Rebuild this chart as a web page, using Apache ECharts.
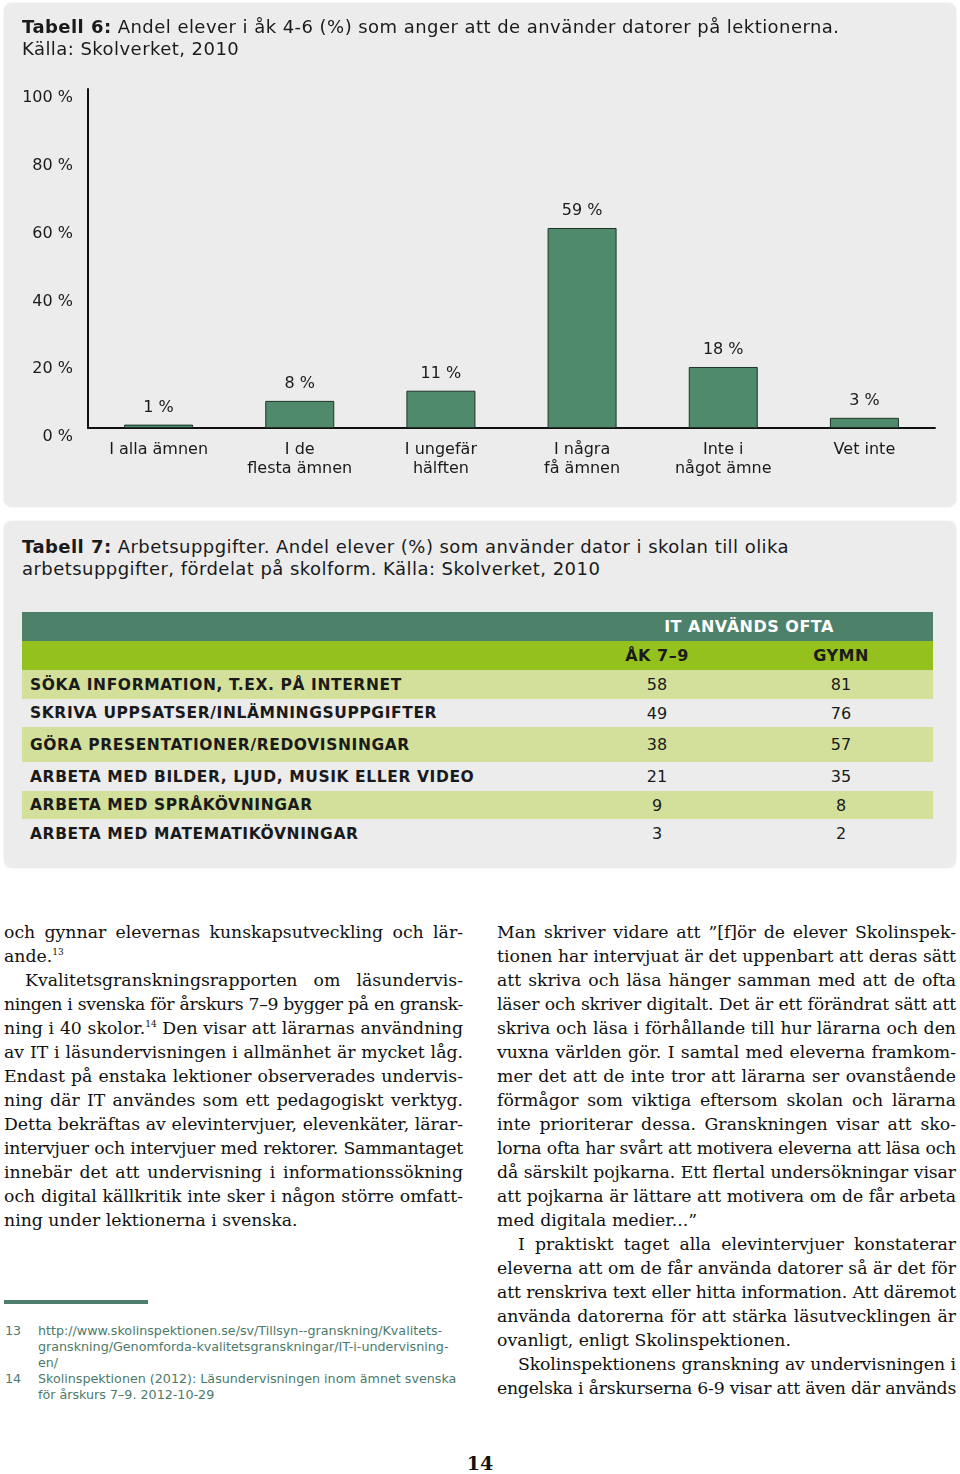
<!DOCTYPE html>
<html><head><meta charset="utf-8">
<script src="https://cdn.jsdelivr.net/npm/echarts@6/dist/echarts.min.js"></script>
<style>
body{margin:0;background:#fff;}
#page{position:relative;width:960px;height:1474px;overflow:hidden;background:#fff;font-family:"DejaVu Sans",Verdana,sans-serif;color:#1a1a1a;}
.panel{position:absolute;background:#ececec;border-radius:8px;box-shadow:0 0 2px rgba(0,0,0,0.12);}
.ptitle{position:absolute;left:22px;font-size:18px;letter-spacing:0.45px;line-height:21.5px;white-space:nowrap;}
#chart{position:absolute;left:0;top:0;width:960px;height:506px;}
table{position:absolute;left:22px;top:612px;width:911px;border-collapse:collapse;table-layout:fixed;}
td{padding:0;font-size:16px;}
td.lab{padding-left:8px;font-weight:bold;font-size:15.5px;letter-spacing:0.6px;white-space:nowrap;}
td.v{text-align:center;}
td.h{font-weight:bold;font-size:16px;letter-spacing:0.5px;}
.body{position:absolute;font-family:"DejaVu Serif",Georgia,serif;font-size:17.3px;line-height:24px;color:#111;}
.body div{text-align:justify;text-align-last:justify;white-space:nowrap;height:24px;}
.body div.last{text-align-last:left;}
.body div.ind{padding-left:21px;}
sup{font-size:9px;line-height:0;vertical-align:7px;}
.fn{position:absolute;font-size:12.7px;line-height:16px;color:#4b7a6b;white-space:nowrap;}
</style></head>
<body><div id="page">
<div class="panel" style="left:4px;top:3px;width:952px;height:504px;"></div>
<div id="chart"></div>
<div class="ptitle" style="top:16px;"><b>Tabell 6:</b> Andel elever i åk 4-6 (%) som anger att de använder datorer på lektionerna.<br>Källa: Skolverket, 2010</div>

<div class="panel" style="left:4px;top:521px;width:952px;height:347px;"></div>
<div class="ptitle" style="top:536px;"><b>Tabell 7:</b> Arbetsuppgifter. Andel elever (%) som använder dator i skolan till olika<br>arbetsuppgifter, fördelat på skolform. Källa: Skolverket, 2010</div>
<table id="tbl"></table>

<div class="body" style="left:4px;top:920px;width:459px;" id="colL"></div>
<div class="body" style="left:497px;top:920px;width:459px;" id="colR"></div>

<div style="position:absolute;left:4px;top:1300px;width:144px;height:4px;background:#4e7f6e;"></div>
<div class="fn" style="left:5px;top:1323px;">13</div>
<div class="fn" style="left:38px;top:1323px;">http://www.skolinspektionen.se/sv/Tillsyn--granskning/Kvalitets-<br>granskning/Genomforda-kvalitetsgranskningar/IT-i-undervisning-<br>en/</div>
<div class="fn" style="left:5px;top:1371px;">14</div>
<div class="fn" style="left:38px;top:1371px;">Skolinspektionen (2012): Läsundervisningen inom ämnet svenska<br>för årskurs 7–9. 2012-10-29</div>
<div style="position:absolute;left:0;width:960px;top:1452px;text-align:center;font-family:'DejaVu Serif',serif;font-weight:bold;font-size:19px;color:#111;">14</div>
</div>
<script>
// Chart data (Tabell 6)
var categories = ['I alla ämnen', 'I de\nflesta ämnen', 'I ungefär\nhälften', 'I några\nfå ämnen', 'Inte i\nnågot ämne', 'Vet inte'];
var values = [1, 8, 11, 59, 18, 3];
var yTicks = [0, 20, 40, 60, 80, 100];

// Table data (Tabell 7)
var tasks = ['SÖKA INFORMATION, T.EX. PÅ INTERNET', 'SKRIVA UPPSATSER/INLÄMNINGSUPPGIFTER', 'GÖRA PRESENTATIONER/REDOVISNINGAR', 'ARBETA MED BILDER, LJUD, MUSIK ELLER VIDEO', 'ARBETA MED SPRÅKÖVNINGAR', 'ARBETA MED MATEMATIKÖVNINGAR'];
var ak79 = [58, 49, 38, 21, 9, 3];
var gymn = [81, 76, 57, 35, 8, 2];

var chart = echarts.init(document.getElementById('chart'));
var font = '"DejaVu Sans", Verdana, sans-serif';
chart.setOption({
  animation: false,
  grid: {left: 88, right: 25, top: 89, bottom: 78},
  xAxis: {
    type: 'category', data: categories,
    axisLine: {lineStyle: {color: '#111', width: 2}},
    axisTick: {show: false},
    axisLabel: {fontFamily: font, fontSize: 16, color: '#1a1a1a', lineHeight: 19, margin: 12, interval: 0}
  },
  yAxis: {
    type: 'value', min: yTicks[0], max: yTicks[yTicks.length - 1], interval: 20,
    axisLine: {show: true, lineStyle: {color: '#111', width: 2}},
    axisTick: {show: false},
    splitLine: {show: false},
    axisLabel: {fontFamily: font, fontSize: 16, color: '#1a1a1a', margin: 15, verticalAlign: 'top', lineHeight: 18, formatter: '{value} %'}
  },
  series: [{
    type: 'bar', data: values, barWidth: 69,
    itemStyle: {color: '#4f8a6d', borderColor: '#1d3427', borderWidth: 1},
    label: {show: true, position: 'top', distance: 9, formatter: '{c} %', fontFamily: font, fontSize: 16, color: '#1a1a1a'}
  }]
});

// build table
var rowH = [29, 29, 29, 28, 35, 29, 28, 29];
var lightRows = [true, false, true, false, true, false];
var html = '<colgroup><col style="width:543px"><col style="width:184px"><col style="width:184px"></colgroup>';
html += '<tr style="height:' + rowH[0] + 'px;background:#4d8169;"><td></td><td colspan="2" class="h" style="text-align:center;color:#fff;">IT ANVÄNDS OFTA</td></tr>';
html += '<tr style="height:' + rowH[1] + 'px;background:#95c11f;"><td></td><td class="v h">ÅK 7–9</td><td class="v h">GYMN</td></tr>';
for (var i = 0; i < tasks.length; i++) {
  html += '<tr style="height:' + rowH[i + 2] + 'px;background:' + (lightRows[i] ? '#d3e09c' : 'transparent') + ';"><td class="lab">' + tasks[i] + '</td><td class="v">' + ak79[i] + '</td><td class="v">' + gymn[i] + '</td></tr>';
}
document.getElementById('tbl').innerHTML = html;

// body text
var L = [
 ['och gynnar elevernas kunskapsutveckling och lär-', ''],
 ['ande.<sup>13</sup>', 'last'],
 ['Kvalitetsgranskningsrapporten om läsundervis-', 'ind'],
 ['ningen i svenska för årskurs 7–9 bygger på en gransk-', ''],
 ['ning i 40 skolor.<sup>14</sup> Den visar att lärarnas användning', ''],
 ['av IT i läsundervisningen i allmänhet är mycket låg.', ''],
 ['Endast på enstaka lektioner observerades undervis-', ''],
 ['ning där IT användes som ett pedagogiskt verktyg.', ''],
 ['Detta bekräftas av elevintervjuer, elevenkäter, lärar-', ''],
 ['intervjuer och intervjuer med rektorer. Sammantaget', ''],
 ['innebär det att undervisning i informationssökning', ''],
 ['och digital källkritik inte sker i någon större omfatt-', ''],
 ['ning under lektionerna i svenska.', 'last']
];
var R = [
 ['Man skriver vidare att ”[f]ör de elever Skolinspek-', ''],
 ['tionen har intervjuat är det uppenbart att deras sätt', ''],
 ['att skriva och läsa hänger samman med att de ofta', ''],
 ['läser och skriver digitalt. Det är ett förändrat sätt att', ''],
 ['skriva och läsa i förhållande till hur lärarna och den', ''],
 ['vuxna världen gör. I samtal med eleverna framkom-', ''],
 ['mer det att de inte tror att lärarna ser ovanstående', ''],
 ['förmågor som viktiga eftersom skolan och lärarna', ''],
 ['inte prioriterar dessa. Granskningen visar att sko-', ''],
 ['lorna ofta har svårt att motivera eleverna att läsa och', ''],
 ['då särskilt pojkarna. Ett flertal undersökningar visar', ''],
 ['att pojkarna är lättare att motivera om de får arbeta', ''],
 ['med digitala medier...”', 'last'],
 ['I praktiskt taget alla elevintervjuer konstaterar', 'ind'],
 ['eleverna att om de får använda datorer så är det för', ''],
 ['att renskriva text eller hitta information. Att däremot', ''],
 ['använda datorerna för att stärka läsutvecklingen är', ''],
 ['ovanligt, enligt Skolinspektionen.', 'last'],
 ['Skolinspektionens granskning av undervisningen i', 'ind'],
 ['engelska i årskurserna 6-9 visar att även där används', '']
];
function fill(id, arr) {
  var box = document.getElementById(id);
  box.innerHTML = arr.map(function (l) { return '<div class="' + l[1] + '"><span>' + l[0] + '</span></div>'; }).join('');
  var W = box.clientWidth;
  Array.prototype.forEach.call(box.children, function (d) {
    var sp = d.firstChild;
    var avail = W - (d.classList.contains('ind') ? 21 : 0);
    var w = sp.getBoundingClientRect().width;
    if (w > avail) {
      var n = sp.textContent.length;
      d.style.letterSpacing = (-(w - avail + 1) / n).toFixed(3) + 'px';
    }
  });
}
fill('colL', L); fill('colR', R);
</script>
</body></html>
